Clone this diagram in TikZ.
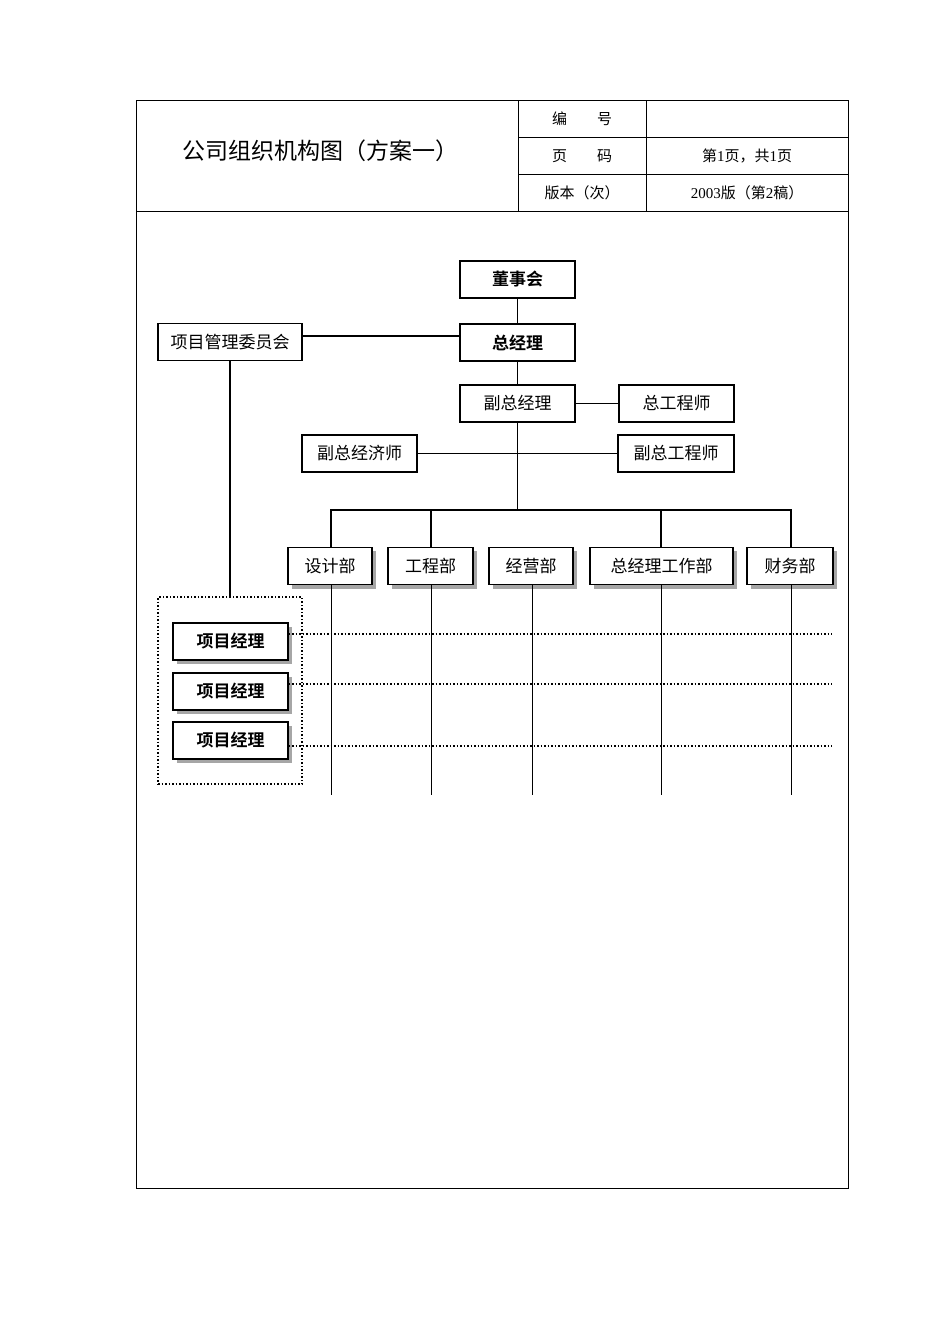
\documentclass[tikz,border=0pt]{standalone}
\usepackage{fontspec}
\setmainfont{Liberation Serif}
\newfontfamily\cjk{Noto Sans CJK SC}
\newfontfamily\cjkb{Noto Sans CJK SC Bold}
\begin{document}
\begin{tikzpicture}[x=1pt,y=-1pt,
  bx/.style={draw,line width=1.6pt,minimum height=37pt,inner sep=0pt,font=\cjk\fontsize{17}{20}\selectfont,fill=white},
  shd/.style={bx,line width=1.2pt},
  bb/.style={bx,font=\cjkb\fontsize{17}{20}\selectfont},
  ln/.style={line width=1.5pt},
  th/.style={line width=0.8pt},
  dl/.style={line width=1.5pt,dotted}]
\useasboundingbox (0,0) rectangle (950,1344);
% header table
\draw[th] (136,100) rectangle (848,1188);
\draw[th] (136,211) -- (848,211);
\draw[th] (518,100) -- (518,211) (646,100) -- (646,211);
\draw[th] (518,137) -- (848,137) (518,174) -- (848,174);
\node[font=\cjk\fontsize{23}{26}\selectfont] (title) at (320,151) {公司组织机构图（方案一）};
\node[font=\cjk\fontsize{15}{18}\selectfont] (h1) at (582,119) {编\hspace{2em}号};
\node[font=\cjk\fontsize{15}{18}\selectfont] (h2) at (582,156) {页\hspace{2em}码};
\node[font=\cjk\fontsize{15}{18}\selectfont] (h3) at (582,193) {版本（次）};
\node[font=\fontsize{15}{18}\selectfont] (v2) at (747,156) {{\cjk 第}1{\cjk 页，共}1{\cjk 页}};
\node[font=\fontsize{15}{18}\selectfont] (v3) at (747,193) {2003{\cjk 版（第}2{\cjk 稿）}};
% shadows
\foreach \a/\b/\c/\d in {288/547/372/585,388/547/473/585,489/547/573/585,590/547/733/585,747/547/833/585,173/623/288/660,173/673/288/710,173/722/288/759}
  \fill[gray!70] (\a+4,\b+4) rectangle (\c+4,\d+4);
% boxes
\node[bb,minimum width=115pt] (dsh) at (517.5,279.5) {董事会};
\node[bb,minimum width=115pt] (zjl) at (517.5,342.5) {总经理};
\node[bx,minimum width=144pt,line width=1.2pt] (xmw) at (230,342) {项目管理委员会};
\node[bx,minimum width=115pt,line width=1.2pt] (fzjl) at (517.5,403.5) {副总经理};
\node[bx,minimum width=115pt,line width=1.2pt] (zgcs) at (676.5,403.5) {总工程师};
\node[bx,minimum width=115pt,line width=1.2pt] (fzjj) at (359.5,453.5) {副总经济师};
\node[bx,minimum width=116pt,line width=1.8pt] (fzgc) at (676,453.5) {副总工程师};
\node[shd,minimum width=84pt] (sj) at (330,566) {设计部};
\node[shd,minimum width=85pt] (gc) at (430.5,566) {工程部};
\node[shd,minimum width=84pt] (jy) at (531,566) {经营部};
\node[shd,minimum width=143pt] (zgb) at (661.5,566) {总经理工作部};
\node[shd,minimum width=86pt] (cw) at (790,566) {财务部};
\node[draw,dotted,line width=1.5pt,minimum width=144pt,minimum height=187pt] (grp) at (230,690.5) {};
\node[bb,line width=1.2pt,minimum width=115pt] (pm1) at (230.5,641.5) {项目经理};
\node[bb,line width=1.2pt,minimum width=115pt] (pm2) at (230.5,691.5) {项目经理};
\node[bb,line width=1.2pt,minimum width=115pt] (pm3) at (230.5,740.5) {项目经理};
% connectors
\draw[ln] (dsh) -- (zjl);
\draw[line width=2.5pt] (xmw.east |- 0,336) -- (zjl.west |- 0,336);
\draw[ln] (zjl) -- (fzjl);
\draw[ln] (fzjl) -- (zgcs);
\draw[ln] (fzjj.east) -- (fzgc.west);
\coordinate (bar) at (517.5,510);
\draw[ln] (fzjl.south) -- (bar);
\draw[ln] (331,547) -- (331,510) -- (791,510) -- (791,547);
\draw[ln] (431,510) -- (431,547) (661,510) -- (661,547);
\draw[ln] (xmw.south) -- (grp.north);
\foreach \x/\n in {331/sj,431/gc,532/jy,661/zgb,791/cw}
  \draw[line width=1pt] (\x,585) -- (\x,795);
\foreach \n/\y in {pm1/634,pm2/684,pm3/746}
  \draw[dl] (\n.east |- 0,\y) -- (832,\y);
\end{tikzpicture}
\end{document}
